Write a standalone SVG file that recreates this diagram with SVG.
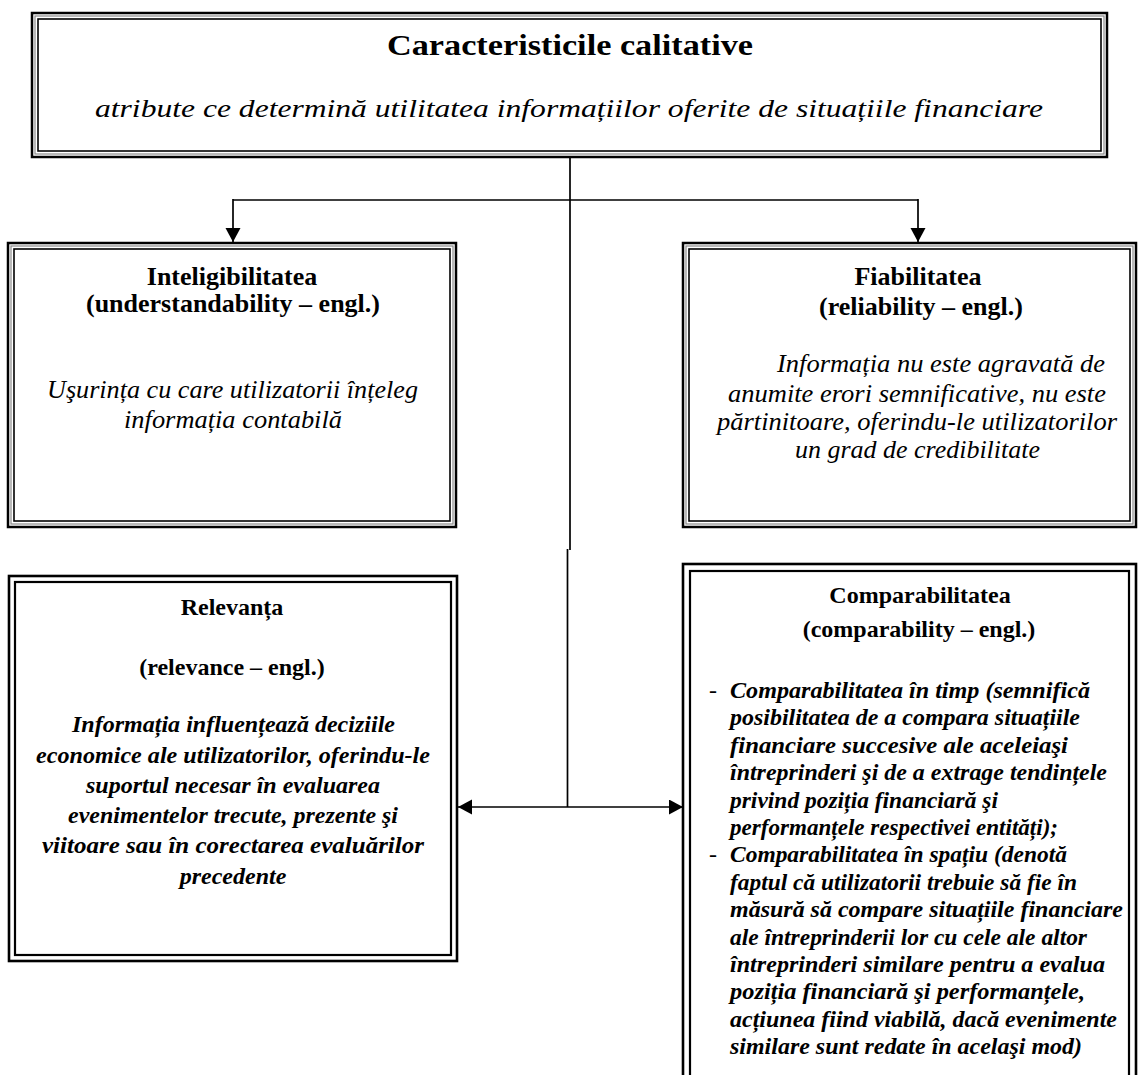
<svg xmlns="http://www.w3.org/2000/svg" width="1139" height="1075" viewBox="0 0 1139 1075">
<style>
text{font-family:"Liberation Serif","Times New Roman",serif;fill:#000}
.b{font-weight:bold;font-size:26px;text-anchor:middle}
.b2{font-weight:bold;font-size:24px;text-anchor:middle}
.i{font-style:italic;font-size:25px}
.bi{font-style:italic;font-weight:bold;font-size:24px}
.o{fill:#fff;stroke:#000;stroke-width:2.5}
.g{fill:none;stroke:#8a8a8a;stroke-width:1.2}
.n{fill:none;stroke:#000;stroke-width:1.6}
.o2{fill:#fff;stroke:#000;stroke-width:2.6}
.n2{fill:none;stroke:#000;stroke-width:2.2}
.c{fill:none;stroke:#000;stroke-width:1.7}
</style>
<defs>
<marker id="ah" markerUnits="userSpaceOnUse" markerWidth="16" markerHeight="16" refX="14" refY="7.5" orient="auto-start-reverse">
<path d="M0,0 L14,7.5 L0,15 z" fill="#000"/>
</marker>
</defs>

<g id="connectors">
<polyline class="c" points="570,157 570,550"/>
<polyline class="c" points="567.5,549 567.5,807"/>
<polyline class="c" points="233,200 918,200"/>
<line class="c" x1="233" y1="199" x2="233" y2="242" marker-end="url(#ah)"/>
<line class="c" x1="918" y1="199" x2="918" y2="242" marker-end="url(#ah)"/>
<line class="c" x1="458" y1="807" x2="683" y2="807" marker-start="url(#ah)" marker-end="url(#ah)"/>
</g>

<g id="node-top">
<rect class="o" x="32" y="13" width="1075" height="144"/>
<rect class="g" x="35" y="16" width="1069" height="138"/>
<rect class="n" x="38" y="19" width="1063" height="132"/>
<text x="387" y="55" font-size="30" font-weight="bold" textLength="366" lengthAdjust="spacingAndGlyphs">Caracteristicile calitative</text>
<text class="i" x="95" y="117" font-size="26" textLength="948" lengthAdjust="spacingAndGlyphs">atribute ce determină utilitatea informațiilor oferite de situațiile financiare</text>
</g>

<g id="node-inteligibilitatea">
<rect class="o" x="8" y="243" width="448" height="284"/>
<rect class="g" x="11" y="246" width="442" height="278"/>
<rect class="n" x="14" y="249" width="436" height="272"/>
<text class="b" x="232" y="285">Inteligibilitatea</text>
<text class="b" x="233" y="312">(understandability – engl.)</text>
<text class="i" x="47" y="398" textLength="371" lengthAdjust="spacingAndGlyphs">Uşurința cu care utilizatorii înțeleg</text>
<text class="i" x="124" y="428" textLength="218" lengthAdjust="spacingAndGlyphs">informația contabilă</text>
</g>

<g id="node-fiabilitatea">
<rect class="o" x="683" y="243" width="453" height="284"/>
<rect class="g" x="686" y="246" width="447" height="278"/>
<rect class="n" x="689" y="249" width="441" height="272"/>
<text class="b" x="918" y="285">Fiabilitatea</text>
<text class="b" x="921" y="315">(reliability – engl.)</text>
<text class="i" x="777" y="372" textLength="328" lengthAdjust="spacingAndGlyphs">Informația nu este agravată de</text>
<text class="i" x="728" y="402" textLength="378" lengthAdjust="spacingAndGlyphs">anumite erori semnificative, nu este</text>
<text class="i" x="717" y="430" textLength="400" lengthAdjust="spacingAndGlyphs">părtinitoare, oferindu-le utilizatorilor</text>
<text class="i" x="795" y="458" textLength="245" lengthAdjust="spacingAndGlyphs">un grad de credibilitate</text>
</g>

<g id="node-relevanta">
<rect class="o2" x="9" y="576" width="448" height="385"/>
<rect class="n2" x="15" y="582" width="436" height="373"/>
<text class="b2" x="232" y="615">Relevanța</text>
<text class="b2" x="232" y="675">(relevance – engl.)</text>
<text class="bi" x="72" y="732" textLength="323" lengthAdjust="spacingAndGlyphs">Informația influențează deciziile</text>
<text class="bi" x="36" y="763" textLength="394" lengthAdjust="spacingAndGlyphs">economice ale utilizatorilor, oferindu-le</text>
<text class="bi" x="86" y="793" textLength="294" lengthAdjust="spacingAndGlyphs">suportul necesar în evaluarea</text>
<text class="bi" x="68" y="823" textLength="330" lengthAdjust="spacingAndGlyphs">evenimentelor trecute, prezente şi</text>
<text class="bi" x="42" y="853" textLength="382" lengthAdjust="spacingAndGlyphs">viitoare sau în corectarea evaluărilor</text>
<text class="bi" x="233" y="884" text-anchor="middle">precedente</text>
</g>

<g id="node-comparabilitatea">
<rect class="o2" x="683" y="564" width="453" height="540"/>
<rect class="n2" x="690" y="571" width="439" height="526"/>
<text class="b2" x="920" y="603">Comparabilitatea</text>
<text class="b2" x="919" y="637">(comparability – engl.)</text>
<text x="709" y="698" font-size="24">-</text>
<text class="bi" x="730" y="698" textLength="360" lengthAdjust="spacingAndGlyphs">Comparabilitatea în timp (semnifică</text>
<text class="bi" x="730" y="725.4" textLength="350" lengthAdjust="spacingAndGlyphs">posibilitatea de a compara situațiile</text>
<text class="bi" x="730" y="752.8" textLength="338" lengthAdjust="spacingAndGlyphs">financiare succesive ale aceleiaşi</text>
<text class="bi" x="730" y="780.2" textLength="377" lengthAdjust="spacingAndGlyphs">întreprinderi şi de a extrage tendințele</text>
<text class="bi" x="730" y="807.6" textLength="268" lengthAdjust="spacingAndGlyphs">privind poziția financiară şi</text>
<text class="bi" x="730" y="835" textLength="328" lengthAdjust="spacingAndGlyphs">performanțele respectivei entități);</text>
<text x="709" y="862.4" font-size="24">-</text>
<text class="bi" x="730" y="862.4" textLength="337" lengthAdjust="spacingAndGlyphs">Comparabilitatea în spațiu (denotă</text>
<text class="bi" x="730" y="889.8" textLength="347" lengthAdjust="spacingAndGlyphs">faptul că utilizatorii trebuie să fie în</text>
<text class="bi" x="730" y="917.2" textLength="393" lengthAdjust="spacingAndGlyphs">măsură să compare situațiile financiare</text>
<text class="bi" x="730" y="944.6" textLength="357" lengthAdjust="spacingAndGlyphs">ale întreprinderii lor cu cele ale altor</text>
<text class="bi" x="730" y="972" textLength="375" lengthAdjust="spacingAndGlyphs">întreprinderi similare pentru a evalua</text>
<text class="bi" x="730" y="999.4" textLength="355" lengthAdjust="spacingAndGlyphs">poziția financiară şi performanțele,</text>
<text class="bi" x="730" y="1026.8" textLength="387" lengthAdjust="spacingAndGlyphs">acțiunea fiind viabilă, dacă evenimente</text>
<text class="bi" x="730" y="1054.2" textLength="352" lengthAdjust="spacingAndGlyphs">similare sunt redate în acelaşi mod)</text>
</g>
</svg>
